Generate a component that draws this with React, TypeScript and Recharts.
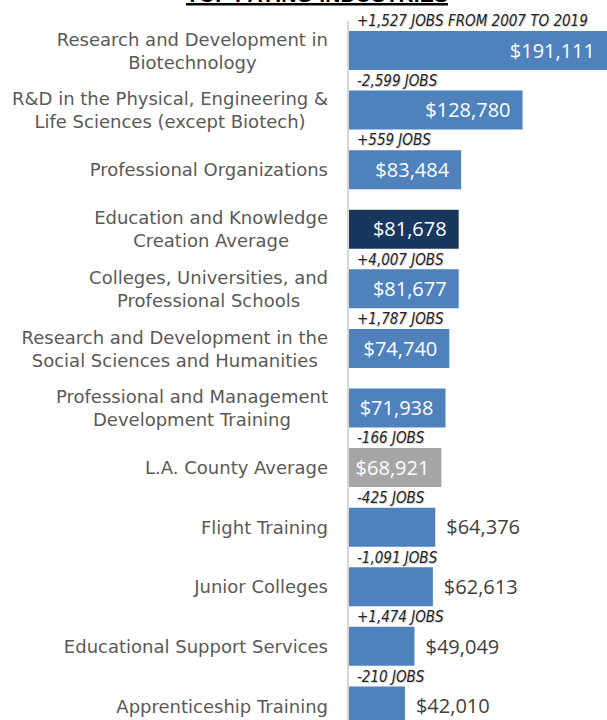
import React from 'react';
import { BarChart, Bar, XAxis, YAxis, Cell, LabelList } from 'recharts';

const industries = [
  'Research and Development in\nBiotechnology',
  'R&D in the Physical, Engineering &\nLife Sciences (except Biotech)',
  'Professional Organizations',
  'Education and Knowledge\nCreation Average',
  'Colleges, Universities, and\nProfessional Schools',
  'Research and Development in the\nSocial Sciences and Humanities',
  'Professional and Management\nDevelopment Training',
  'L.A. County Average',
  'Flight Training',
  'Junior Colleges',
  'Educational Support Services',
  'Apprenticeship Training',
];

const avgWages = [191111, 128780, 83484, 81678, 81677, 74740, 71938, 68921, 64376, 62613, 49049, 42010];

const jobsChange = [
  '+1,527 JOBS FROM 2007 TO 2019',
  '-2,599 JOBS',
  '+559 JOBS',
  '',
  '+4,007 JOBS',
  '+1,787 JOBS',
  '',
  '-166 JOBS',
  '-425 JOBS',
  '-1,091 JOBS',
  '+1,474 JOBS',
  '-210 JOBS',
];

const barColors = ['#4f81bd', '#4f81bd', '#4f81bd', '#17375e', '#4f81bd', '#4f81bd', '#4f81bd', '#a6a6a6', '#4f81bd', '#4f81bd', '#4f81bd', '#4f81bd'];

const data = industries.map((name, i) => ({ name, wage: avgWages[i], jobs: jobsChange[i] }));

const LABEL_FONT = '"DejaVu Sans", sans-serif';
const NOTE_FONT = '"DejaVu Sans Condensed", sans-serif';
const VALUE_FONT = '"Open Sans", sans-serif';

if (typeof document !== 'undefined') document.body.style.margin = '0';

let ctx: CanvasRenderingContext2D | null = null;
const measure = (s: string) => {
  if (!ctx) {
    ctx = document.createElement('canvas').getContext('2d');
    if (ctx) ctx.font = '18px "DejaVu Sans"';
  }
  return ctx ? ctx.measureText(s).width : s.length * 9;
};

const CategoryTick = (props: any) => {
  const { x, y, payload } = props;
  const lines = String(payload.value).split('\n');
  const maxW = Math.max(...lines.map(measure));
  const cx = x - maxW / 2;
  const lh = 23;
  const top = y - ((lines.length - 1) * lh) / 2;
  return (
    <text textAnchor="middle" fill="#595959" fontSize={18} fontFamily={LABEL_FONT}>
      {lines.map((l, i) => (
        <tspan key={i} x={cx} y={top + i * lh} dy="0.35em">{l}</tspan>
      ))}
    </text>
  );
};

const JobsLabel = (props: any) => {
  const { x, y, value } = props;
  if (!value) return null;
  return (
    <g fontFamily={NOTE_FONT} fontStyle="italic" fontSize={15}>
      <text x={x + 10} y={y - 9} dy="0.35em" fill="#d4d4d4">{value}</text>
      <text x={x + 9} y={y - 10} dy="0.35em" fill="#222">{value}</text>
    </g>
  );
};

const WageLabel = (props: any) => {
  const { x, y, width, height, value } = props;
  const inside = value > 66000;
  const text = '$' + Number(value).toLocaleString('en-US');
  return (
    <text
      x={inside ? x + width - 12 : x + width + 11}
      y={y + height / 2}
      dy="0.36em"
      textAnchor={inside ? 'end' : 'start'}
      fill={inside ? '#ffffff' : '#404040'}
      fontSize={20}
      fontFamily={VALUE_FONT}
    >
      {text}
    </text>
  );
};

export default function App() {
  return (
    <div style={{ width: 607, height: 720, overflow: 'hidden', position: 'relative', background: '#fff' }}>
      <BarChart
        width={607}
        height={736}
        layout="vertical"
        data={data}
        margin={{ top: 21, right: 0, bottom: 0, left: 0 }}
      >
        <XAxis type="number" hide domain={[0, 191111]} />
        <YAxis
          type="category"
          dataKey="name"
          width={348}
          tickLine={false}
          tickMargin={14}
          axisLine={{ stroke: '#d6d6d6', strokeWidth: 2 }}
          tick={<CategoryTick />}
          interval={0}
        />
        <Bar dataKey="wage" barSize={39} isAnimationActive={false}>
          {data.map((d, i) => (
            <Cell key={d.name} fill={barColors[i]} />
          ))}
          <LabelList dataKey="wage" content={<WageLabel />} />
          <LabelList dataKey="jobs" content={<JobsLabel />} />
        </Bar>
      </BarChart>
      <svg width={607} height={10} style={{ position: 'absolute', left: 0, top: 0, zIndex: 2 }}>
        <text x={186} y={2} fontSize={21} fontWeight="bold" fontFamily='"Liberation Sans", sans-serif' textLength={262} fill="#000">
          TOP PAYING INDUSTRIES
        </text>
        <rect x={186} y={3} width={262} height={2.5} fill="#000" />
      </svg>
    </div>
  );
}
